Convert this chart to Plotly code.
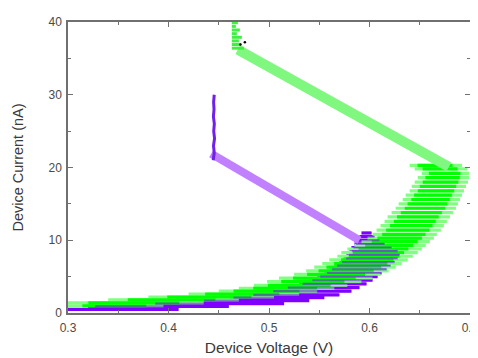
import plotly.graph_objects as go

# ---- data ----
# green sweep: horizontal noisy streaks (current nA, left V, right V)
green_i = [1.0, 1.4, 1.8, 2.2, 2.6, 3.0, 3.4, 3.8, 4.3, 4.8, 5.3, 5.8, 6.3, 6.8, 7.3, 7.8, 8.3, 8.8, 9.3,
           9.8, 10.3, 10.8, 11.4, 12.0, 12.6, 13.2, 13.8, 14.4, 15.0, 15.6, 16.2, 16.8, 17.4, 18.0, 18.6,
           19.2, 19.8, 20.3]
green_vl = [0.300, 0.300, 0.340, 0.380, 0.420, 0.450, 0.470, 0.485, 0.498, 0.510, 0.525, 0.537, 0.545,
            0.553, 0.560, 0.568, 0.572, 0.578, 0.585, 0.592, 0.598, 0.603, 0.607, 0.611, 0.615, 0.618,
            0.622, 0.626, 0.629, 0.633, 0.636, 0.640, 0.642, 0.645, 0.648, 0.652, 0.645, 0.640]
green_vr = [0.395, 0.435, 0.470, 0.505, 0.530, 0.548, 0.565, 0.578, 0.592, 0.603, 0.611, 0.619, 0.626,
            0.632, 0.638, 0.643, 0.648, 0.652, 0.656, 0.660, 0.664, 0.667, 0.671, 0.674, 0.677, 0.680,
            0.683, 0.686, 0.688, 0.690, 0.692, 0.694, 0.696, 0.698, 0.699, 0.699, 0.697, 0.692]

# purple sweep streaks
purple_i = [0.5, 0.9, 1.3, 1.7, 2.1, 2.5, 3.0, 3.5, 4.0, 4.5, 5.0, 5.5, 6.0, 6.5, 7.0, 7.5, 8.0, 8.5,
            9.0, 9.5, 10.0, 10.5, 11.0]
purple_vl = [0.300, 0.320, 0.380, 0.430, 0.460, 0.480, 0.500, 0.515, 0.530, 0.540, 0.548, 0.555, 0.560,
             0.565, 0.570, 0.574, 0.577, 0.580, 0.582, 0.585, 0.585, 0.590, 0.592]
purple_vr = [0.410, 0.460, 0.515, 0.540, 0.555, 0.570, 0.582, 0.590, 0.597, 0.603, 0.608, 0.612, 0.617,
             0.621, 0.625, 0.628, 0.630, 0.628, 0.622, 0.615, 0.610, 0.605, 0.602]

# reset branches (straight return lines)
green_reset_v = [0.679, 0.469]
green_reset_i = [20.1, 36.2]
purple_reset_v = [0.590, 0.4425]
purple_reset_i = [10.0, 21.9]

# near-vertical segments at top of each sweep
purple_vert_v = [0.4445, 0.4455, 0.4448, 0.4458, 0.4450, 0.4456, 0.4447, 0.4453, 0.4449, 0.4455]
purple_vert_i = [21.0, 22.0, 23.0, 24.0, 25.0, 26.0, 27.0, 28.0, 29.0, 30.0]
green_vert_i = [36.4, 36.9, 37.4, 37.9, 38.4, 38.9, 39.4, 39.9]
green_vert_vl = [0.463, 0.463, 0.463, 0.463, 0.463, 0.463, 0.463, 0.463]
green_vert_vr = [0.475, 0.472, 0.470, 0.473, 0.468, 0.471, 0.467, 0.469]

stray_v = [0.4716, 0.4760]
stray_i = [36.9, 37.2]

x_ticks = [0.3, 0.4, 0.5, 0.6, 0.7]
x_tick_labels = ["0.3", "0.4", "0.5", "0.6", "0.7"]
y_ticks = [0, 10, 20, 30, 40]
y_tick_labels = ["0", "10", "20", "30", "40"]


def streaks(ys, xl, xr, shrink_l=0.0, shrink_r=0.0):
    xs, yy = [], []
    for y, a, b in zip(ys, xl, xr):
        w = b - a
        xs += [a + shrink_l * w, b - shrink_r * w, None]
        yy += [y, y, None]
    return xs, yy


fig = go.Figure()

# purple base streaks
px_, py_ = streaks(purple_i, purple_vl, purple_vr)
fig.add_trace(go.Scatter(x=px_, y=py_, mode="lines", line=dict(color="#7f00ff", width=3.2),
                         hoverinfo="skip", showlegend=False))
# green outer streaks
gx, gy = streaks(green_i, green_vl, green_vr)
fig.add_trace(go.Scatter(x=gx, y=gy, mode="lines", line=dict(color="#80ff80", width=3.2),
                         hoverinfo="skip", showlegend=False))
# green core streaks
cx, cy = streaks(green_i, green_vl, green_vr, 0.15, 0.18)
fig.add_trace(go.Scatter(x=cx, y=cy, mode="lines", line=dict(color="#00ff00", width=3.2),
                         hoverinfo="skip", showlegend=False))
# purple translucent overlay -> teal where it overlaps green
ox, oy = streaks(purple_i, purple_vl, purple_vr, 0.05, 0.0)
fig.add_trace(go.Scatter(x=ox, y=oy, mode="lines", line=dict(color="rgba(127,0,255,0.5)", width=2.2),
                         hoverinfo="skip", showlegend=False))

# reset lines
fig.add_trace(go.Scatter(x=green_reset_v, y=green_reset_i, mode="lines",
                         line=dict(color="#80f880", width=10), showlegend=False))
fig.add_trace(go.Scatter(x=purple_reset_v, y=purple_reset_i, mode="lines",
                         line=dict(color="#c080ff", width=8), showlegend=False))

# vertical parts
vx, vy = streaks(green_vert_i, green_vert_vl, green_vert_vr)
fig.add_trace(go.Scatter(x=vx, y=vy, mode="lines", line=dict(color="#40f040", width=3),
                         showlegend=False))
fig.add_trace(go.Scatter(x=purple_vert_v, y=purple_vert_i, mode="lines",
                         line=dict(color="#7020e8", width=3), showlegend=False))
fig.add_trace(go.Scatter(x=stray_v, y=stray_i, mode="markers",
                         marker=dict(color="#000000", size=2.5), showlegend=False))

axis_common = dict(
    showline=True, linecolor="#707070", linewidth=1.5, mirror="ticks",
    ticks="inside", ticklen=5, tickwidth=1.2, tickcolor="#707070",
    showgrid=False, zeroline=False,
    tickfont=dict(family="Liberation Sans, Arial", size=12, color="#4a4a4a"),
)

fig.update_xaxes(range=[0.3, 0.7], tickvals=x_ticks, ticktext=x_tick_labels, ticklabelstandoff=3,
                 minor=dict(dtick=0.05, ticks="inside", ticklen=3, tickcolor="#707070"),
                 title=dict(text="Device Voltage (V)", standoff=8,
                            font=dict(family="Liberation Sans, Arial", size=15.5, color="#3a3a3a")),
                 **axis_common)
fig.update_yaxes(range=[0, 40], tickvals=y_ticks, ticktext=y_tick_labels, ticklabelstandoff=2,
                 minor=dict(dtick=5, ticks="inside", ticklen=3, tickcolor="#707070"),
                 title=dict(text="Device Current (nA)", standoff=21,
                            font=dict(family="Liberation Sans, Arial", size=14.5, color="#3a3a3a")),
                 **axis_common)

# page has an 8px body margin; margins compensate so the plot box lands where the reference has it
fig.update_layout(width=478, height=358, margin=dict(l=60, r=13, t=7, b=53),
                  paper_bgcolor="white", plot_bgcolor="white")

fig.write_html("out.html")
